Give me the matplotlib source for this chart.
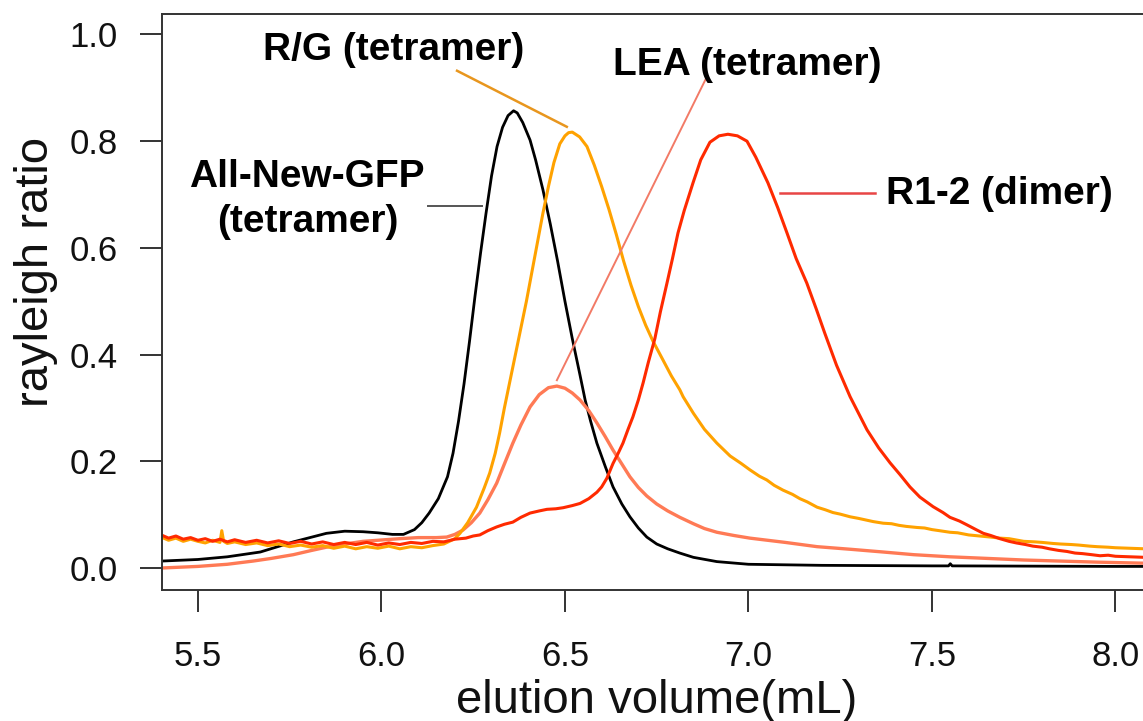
import matplotlib
matplotlib.use("Agg")
import matplotlib.pyplot as plt

plt.rcParams['font.family'] = ['Liberation Sans', 'DejaVu Sans']

# elution volume (mL) / rayleigh ratio for each construct
gfp_x = [5.40, 5.50, 5.58, 5.67, 5.76, 5.85, 5.90, 5.95, 5.99, 6.03, 6.06, 6.09, 6.11,
         6.13, 6.155, 6.18, 6.195, 6.21, 6.225, 6.24, 6.255, 6.27, 6.285, 6.30, 6.315,
         6.33, 6.345, 6.36, 6.37, 6.385, 6.405, 6.42, 6.44, 6.46, 6.48, 6.50, 6.52,
         6.54, 6.555, 6.57, 6.587, 6.61, 6.631, 6.655, 6.677, 6.70, 6.723, 6.75, 6.78,
         6.813, 6.85, 6.914, 7.00, 7.20, 7.50, 7.545, 7.55, 7.555, 8.00, 8.08]
gfp_y = [0.013, 0.016, 0.021, 0.030, 0.049, 0.065, 0.069, 0.068, 0.066, 0.063, 0.063, 0.072, 0.085,
         0.103, 0.130, 0.171, 0.215, 0.275, 0.345, 0.425, 0.510, 0.590, 0.665, 0.735, 0.790,
         0.826, 0.848, 0.857, 0.853, 0.835, 0.802, 0.765, 0.709, 0.645, 0.575, 0.500, 0.430,
         0.365, 0.315, 0.275, 0.234, 0.190, 0.152, 0.120, 0.096, 0.075, 0.058, 0.045, 0.036,
         0.028, 0.020, 0.012, 0.007, 0.005, 0.004, 0.004, 0.008, 0.004, 0.003, 0.003]

lea_x = [5.40, 5.50, 5.58, 5.65, 5.70, 5.76, 5.81, 5.85, 5.90, 5.95, 5.99, 6.05, 6.10,
         6.15, 6.178, 6.20, 6.222, 6.245, 6.268, 6.29, 6.314, 6.335, 6.358, 6.38, 6.405,
         6.43, 6.455, 6.478, 6.50, 6.52, 6.541, 6.565, 6.587, 6.61, 6.631, 6.655, 6.677,
         6.70, 6.723, 6.75, 6.78, 6.813, 6.85, 6.88, 6.914, 6.96, 7.004, 7.10, 7.187,
         7.28, 7.367, 7.45, 7.549, 7.65, 7.75, 7.85, 7.95, 8.08]
lea_y = [0.000, 0.003, 0.007, 0.013, 0.018, 0.025, 0.033, 0.039, 0.045, 0.050, 0.052, 0.055, 0.057,
         0.057, 0.058, 0.063, 0.071, 0.085, 0.103, 0.128, 0.159, 0.195, 0.234, 0.268, 0.302,
         0.325, 0.338, 0.341, 0.337, 0.328, 0.315, 0.295, 0.272, 0.246, 0.221, 0.195, 0.171,
         0.151, 0.135, 0.120, 0.107, 0.095, 0.083, 0.074, 0.067, 0.061, 0.056, 0.048, 0.040,
         0.035, 0.030, 0.025, 0.021, 0.018, 0.015, 0.013, 0.011, 0.009]

rg_x = [5.40, 5.42, 5.44, 5.46, 5.48, 5.50, 5.52, 5.54, 5.56, 5.565, 5.57, 5.58, 5.60,
        5.63, 5.66, 5.69, 5.72, 5.75, 5.78, 5.81, 5.84, 5.87, 5.90, 5.93, 5.96, 5.99,
        6.02, 6.05, 6.08, 6.11, 6.14, 6.17, 6.20, 6.214, 6.235, 6.259, 6.28, 6.295, 6.31,
        6.322, 6.335, 6.35, 6.365, 6.38, 6.395, 6.41, 6.425, 6.44, 6.455, 6.47, 6.486, 6.50,
        6.51, 6.52, 6.54, 6.56, 6.58, 6.60, 6.62, 6.64, 6.66, 6.68, 6.70, 6.72, 6.74,
        6.767, 6.79, 6.813, 6.822, 6.85, 6.88, 6.914, 6.95, 6.98, 7.004, 7.03, 7.05, 7.07,
        7.094, 7.12, 7.14, 7.16, 7.187, 7.21, 7.23, 7.25, 7.277, 7.30, 7.32, 7.34, 7.367,
        7.39, 7.41, 7.43, 7.459, 7.48, 7.50, 7.52, 7.549, 7.57, 7.60, 7.63, 7.66, 7.685,
        7.71, 7.75, 7.78, 7.80, 7.83, 7.85, 7.88, 7.90, 7.93, 7.95, 7.98, 8.00, 8.04, 8.08]
rg_y = [0.058, 0.052, 0.056, 0.050, 0.054, 0.050, 0.047, 0.052, 0.048, 0.070, 0.050, 0.046, 0.049,
        0.044, 0.047, 0.042, 0.045, 0.040, 0.043, 0.039, 0.042, 0.037, 0.041, 0.036, 0.040, 0.037,
        0.041, 0.036, 0.040, 0.038, 0.042, 0.045, 0.055, 0.065, 0.085, 0.114, 0.150, 0.178, 0.215,
        0.253, 0.300, 0.350, 0.400, 0.450, 0.500, 0.555, 0.610, 0.665, 0.715, 0.760, 0.795, 0.810,
        0.816, 0.817, 0.808, 0.790, 0.755, 0.715, 0.672, 0.625, 0.575, 0.530, 0.490, 0.455, 0.425,
        0.390, 0.360, 0.334, 0.321, 0.290, 0.260, 0.234, 0.210, 0.196, 0.184, 0.172, 0.165, 0.155,
        0.146, 0.138, 0.130, 0.124, 0.114, 0.109, 0.104, 0.101, 0.096, 0.093, 0.090, 0.087, 0.084,
        0.083, 0.080, 0.078, 0.076, 0.075, 0.072, 0.070, 0.067, 0.066, 0.062, 0.060, 0.058, 0.056,
        0.055, 0.050, 0.049, 0.048, 0.046, 0.045, 0.044, 0.043, 0.041, 0.040, 0.039, 0.038, 0.037, 0.036]

r12_x = [5.40, 5.42, 5.44, 5.46, 5.48, 5.50, 5.52, 5.54, 5.56, 5.58, 5.60, 5.63, 5.66,
         5.69, 5.72, 5.75, 5.78, 5.81, 5.84, 5.87, 5.90, 5.93, 5.96, 5.99, 6.02, 6.05,
         6.08, 6.11, 6.14, 6.17, 6.20, 6.23, 6.25, 6.268, 6.29, 6.314, 6.335, 6.358, 6.38,
         6.405, 6.43, 6.451, 6.475, 6.495, 6.52, 6.541, 6.565, 6.587, 6.60, 6.614, 6.631,
         6.645, 6.658, 6.672, 6.685, 6.70, 6.713, 6.727, 6.745, 6.76, 6.778, 6.793, 6.808,
         6.825, 6.849, 6.87, 6.895, 6.92, 6.944, 6.97, 6.996, 7.02, 7.053, 7.08, 7.105,
         7.13, 7.159, 7.185, 7.208, 7.24, 7.277, 7.30, 7.323, 7.355, 7.386, 7.413, 7.44,
         7.467, 7.503, 7.53, 7.549, 7.575, 7.595, 7.62, 7.64, 7.66, 7.685, 7.71, 7.73,
         7.755, 7.775, 7.80, 7.82, 7.845, 7.868, 7.89, 7.91, 7.935, 7.958, 7.98, 8.00,
         8.04, 8.08]
r12_y = [0.062, 0.056, 0.060, 0.054, 0.057, 0.052, 0.055, 0.050, 0.054, 0.049, 0.053, 0.048, 0.052,
         0.047, 0.051, 0.046, 0.050, 0.045, 0.049, 0.044, 0.048, 0.044, 0.048, 0.043, 0.047, 0.044,
         0.048, 0.046, 0.050, 0.049, 0.054, 0.056, 0.060, 0.062, 0.070, 0.077, 0.082, 0.086, 0.095,
         0.103, 0.107, 0.110, 0.111, 0.113, 0.117, 0.121, 0.130, 0.142, 0.152, 0.168, 0.196,
         0.215, 0.234, 0.260, 0.283, 0.315, 0.347, 0.385, 0.430, 0.480, 0.534, 0.580, 0.628,
         0.670, 0.722, 0.765, 0.798, 0.810, 0.813, 0.810, 0.800, 0.770, 0.722, 0.675, 0.628,
         0.580, 0.534, 0.485, 0.440, 0.380, 0.321, 0.290, 0.259, 0.225, 0.197, 0.175, 0.152,
         0.133, 0.115, 0.104, 0.095, 0.088, 0.081, 0.072, 0.065, 0.061, 0.055, 0.050, 0.047,
         0.044, 0.041, 0.039, 0.036, 0.033, 0.031, 0.028, 0.027, 0.025, 0.023, 0.024, 0.022,
         0.021, 0.020]

xticks = [5.5, 6.0, 6.5, 7.0, 7.5, 8.0]
yticks = [0.0, 0.2, 0.4, 0.6, 0.8, 1.0]

c_gfp = "black"
c_rg = "#ffa200"
c_lea = "#ff7a55"
c_r12 = "#ff2a00"

fig = plt.figure(figsize=(11.43, 7.21), dpi=100)
ax = fig.add_axes([0.1417, 0.1817, 0.8583, 0.7989])

ax.plot(gfp_x, gfp_y, color=c_gfp, lw=2.0)
ax.plot(lea_x, lea_y, color=c_lea, lw=2.4)
ax.plot(rg_x, rg_y, color=c_rg, lw=2.2)
ax.plot(r12_x, r12_y, color=c_r12, lw=2.2)

ax.set_xlim(5.402, 8.075)
ax.set_ylim(-0.0412, 1.0384)
ax.set_xticks(xticks)
ax.set_yticks(yticks)
ax.set_xticklabels([f"{v:.1f}" for v in xticks])
ax.set_yticklabels([f"{v:.1f}" for v in yticks])
ax.tick_params(direction='out', length=16, width=1.4, color='#333333',
               labelsize=25, labelcolor='#111111')
ax.tick_params(axis='y', pad=16)
ax.tick_params(axis='x', pad=20)
ax.spines['right'].set_visible(False)
for s in ['left', 'top', 'bottom']:
    ax.spines[s].set_linewidth(1.4)
    ax.spines[s].set_color('#333333')

# axis titles
fig.text(657 / 1143, 1 - 713 / 721, "elution volume(mL)", fontsize=34,
         ha='center', va='baseline', color='#111111')
fig.text(48 / 1143, 1 - 272 / 721, "rayleigh ratio", fontsize=34, rotation=90,
         rotation_mode='anchor', ha='center', va='baseline', color='#111111')

# labels with leader lines
lbl = dict(fontsize=28, fontweight='bold', ha='center', va='baseline', color='black')
ax.text(6.034, 0.952, "R/G (tetramer)", **lbl)
ax.text(6.996, 0.924, "LEA (tetramer)", **lbl)
ax.text(5.797, 0.714, "All-New-GFP", **lbl)
ax.text(5.800, 0.630, "(tetramer)", **lbl)
ax.text(7.685, 0.682, "R1-2 (dimer)", **lbl)

ax.plot([6.206, 6.505], [0.932, 0.827], color="#e8961e", lw=1.8)
ax.plot([6.884, 6.478], [0.917, 0.352], color="#f27a66", lw=1.4)
ax.plot([7.086, 7.345], [0.703, 0.703], color="#e84545", lw=1.8)
ax.plot([6.127, 6.274], [0.679, 0.679], color="#555555", lw=1.4)

fig.savefig("out.png", dpi=100)
